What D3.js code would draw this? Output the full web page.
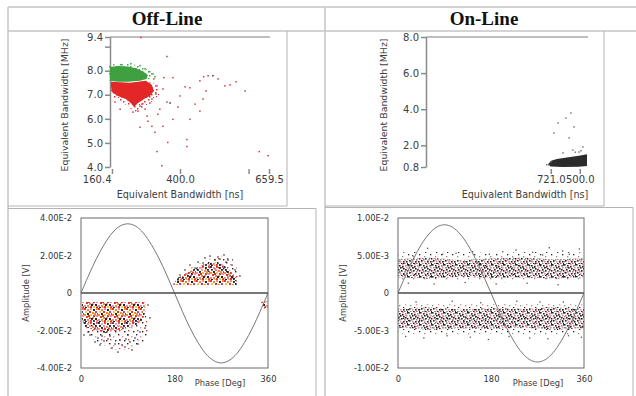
<!DOCTYPE html>
<html>
<head>
<meta charset="utf-8">
<script src="https://cdn.jsdelivr.net/npm/d3@7"></script>
<style>
    body { margin: 0; background: #fff; }
    svg { display: block; }
    text { font-family: "DejaVu Sans", Verdana, sans-serif; fill: #3c3c3c; }
</style>
</head>
<body>
<svg id="chart" width="636" height="396"></svg>
<script>
// ---- Off-Line, equivalent bandwidth map ----
const offYTicks = [4, 5, 6, 7, 8, 9, 9.4]
const offYLabels = ["4.0", "5.0", "6.0", "7.0", "8.0", "", "9.4"]
const offXTicks = [160.4, 400, 600, 659.5]
const offXLabels = ["160.4", "400.0", "", "659.5"]
const offGreenCore = [[153, 8.15], [181, 8.2], [216, 8.17], [245, 8.1], [269, 7.98], [287, 7.82], [282, 7.66], [259, 7.58], [216, 7.54], [181, 7.54], [153, 7.58]]
const offGreenHalo = [[150, 8.24], [190, 8.32], [230, 8.28], [262, 8.18], [290, 8.02], [305, 7.84], [296, 7.66], [260, 7.6], [150, 7.6]]
const offRedCore = [[157, 7.54], [223, 7.5], [280, 7.58], [301, 7.41], [308, 7.16], [294, 6.95], [273, 6.82], [252, 6.66], [238, 6.49], [227, 6.66], [209, 6.82], [181, 6.95], [160, 7.12], [157, 7.33]]
const offRedHalo = [[155, 7.52], [240, 7.48], [300, 7.52], [322, 7.32], [328, 7.02], [310, 6.8], [285, 6.58], [258, 6.34], [236, 6.28], [218, 6.52], [190, 6.72], [165, 6.85], [155, 7.1]]
const offGreenDots = [[293, 7.96], [305, 7.87], [277, 8.08], [312, 7.75], [196, 8.25], [227, 8.29], [259, 8.21]]
const offRedDots = [
    [262, 9.38], [354, 8.59], [308, 7.66], [343, 7.71], [375, 7.71], [319, 7.37], [340, 7.24], [400, 6.95],
    [415, 7.33], [429, 7.29], [458, 7.58], [469, 7.75], [482, 7.79], [511, 7.66], [531, 7.37],
    [563, 7.54], [467, 6.82], [429, 5.98], [420, 5.14], [420, 4.85], [357, 5.02], [319, 4.64], [336, 4.05],
    [301, 5.69], [284, 6.11], [259, 6.53], [329, 6.4], [354, 6.7], [375, 5.98], [631, 4.64], [657, 4.47],
    [284, 6.95], [234, 6.28], [259, 5.65], [312, 5.44], [340, 5.69], [301, 6.82], [171, 6.7],
    [189, 6.4], [241, 6.74], [266, 6.61], [294, 6.66], [277, 6.4], [315, 7.03], [252, 6.32], [287, 5.9],
    [322, 6.19], [393, 6.49], [444, 6.61], [476, 7.16], [546, 7.41], [590, 7.16], [458, 6.32]
]
const offDarkDots = [[496, 7.79], [365, 6.66]]

// ---- On-Line, equivalent bandwidth map ----
const onYTicks = [0.8, 2, 4, 6, 8]
const onYLabels = ["0.8", "2.0", "4.0", "6.0", "8.0"]
const onXTicks = [620, 764]
const onXLabels = ["721.0", "500.0"]
const onCore = [[606, 0.95], [622, 1.15], [650, 1.25], [700, 1.32], [760, 1.42], [800, 1.5], [800, 0.86], [760, 0.82], [680, 0.8], [620, 0.83]]
const onDots = [[720, 3.79], [696, 3.51], [656, 3.24], [735, 3.02], [636, 2.68], [711, 2.41], [730, 1.74], [780, 1.91], [760, 1.63], [681, 1.58], [621, 1.08], [611, 0.91], [742, 1.62], [770, 1.7], [600, 0.92]]

// ---- Off-Line, phase resolved ----
const offSine = [[0, 0], [15, 0.0096], [30, 0.0185], [45, 0.026], [60, 0.032], [75, 0.0357], [90, 0.0369], [105, 0.0357], [120, 0.032], [135, 0.026], [150, 0.0185], [165, 0.0096], [180, 0], [195, -0.0097], [210, -0.0187], [225, -0.0263], [240, -0.0323], [255, -0.036], [270, -0.0373], [285, -0.036], [300, -0.0323], [315, -0.0263], [330, -0.0187], [345, -0.0097], [360, 0]]
const offNegCore = [[1.9, -0.0048], [123, -0.0048], [125, -0.0091], [119, -0.0144], [104, -0.0176], [75, -0.0197], [46, -0.0213], [27, -0.0197], [7.7, -0.0181], [1.9, -0.0144]]
const offNegWarm = [[3, -0.0048], [120, -0.0048], [118, -0.011], [95, -0.015], [60, -0.016], [25, -0.0145], [3, -0.012]]
const offNegHalo = [[8, -0.015], [40, -0.018], [80, -0.017], [125, -0.012], [132, -0.02], [118, -0.027], [90, -0.03], [60, -0.03], [30, -0.026], [10, -0.022]]
const offPosCore = [[175.2, 0.0043], [300.3, 0.0043], [298.4, 0.008], [286.8, 0.0123], [271.4, 0.0155], [252.2, 0.0165], [229, 0.0144], [206, 0.0112], [186.7, 0.008]]
const offPosWarm = [[178, 0.0043], [295, 0.0043], [290, 0.009], [270, 0.012], [245, 0.012], [215, 0.0095], [190, 0.007]]
const offPosHalo = [[185, 0.008], [215, 0.014], [245, 0.018], [270, 0.02], [292, 0.018], [305, 0.01], [300, 0.006], [260, 0.012], [220, 0.01]]
const offEdgeCore = [[346.5, -0.0048], [360, -0.0043], [360, -0.0075], [352.3, -0.0085]]
const offNegDots = [
    [17.3, -0.0224], [32.7, -0.024], [44.3, -0.0256], [55.8, -0.0229], [65.5, -0.0272], [75, -0.0251], [84.7, -0.0288],
    [94.3, -0.0261], [104, -0.024], [90.5, -0.0224], [59.7, -0.0293], [36.6, -0.0277], [113.6, -0.0208], [123.2, -0.0187],
    [13.5, -0.0208], [71.2, -0.0315], [98.2, -0.0304], [52, -0.0245], [27, -0.0261], [109.7, -0.0272], [132.8, -0.0133],
    [129, -0.0064], [5.8, -0.0224], [78.9, -0.0277], [40.4, -0.0229], [86.6, -0.0245]
]
const offPosDots = [
    [190.6, 0.0096], [209.8, 0.0149], [225.2, 0.0165], [238.7, 0.0187], [248.3, 0.0197], [263.7, 0.0192], [275.3, 0.0203],
    [283, 0.0176], [290.7, 0.0149], [296.5, 0.0123], [200.2, 0.0123], [219.5, 0.0133], [258, 0.0176], [279, 0.0165],
    [306, 0.0091], [234.9, 0.016], [267.6, 0.0181], [186.7, 0.0069]
]

// ---- On-Line, phase resolved ----
const onSine = [[0, 0], [15, 0.00236], [30, 0.00456], [45, 0.00644], [60, 0.00788], [75, 0.00879], [90, 0.0091], [105, 0.00879], [120, 0.00788], [135, 0.00644], [150, 0.00456], [165, 0.00236], [180, 0], [195, -0.00238], [210, -0.0046], [225, -0.0065], [240, -0.00797], [255, -0.00889], [270, -0.0092], [285, -0.00889], [300, -0.00797], [315, -0.0065], [330, -0.0046], [345, -0.00238], [360, 0]]
const onBandUp = [[0, 0.0045], [60, 0.0047], [120, 0.0044], [180, 0.0046], [240, 0.0047], [300, 0.0045], [360, 0.0046], [360, 0.0021], [300, 0.0019], [240, 0.0021], [180, 0.002], [120, 0.0022], [60, 0.0019], [0, 0.0021]]
const onBandDown = [[0, -0.0021], [60, -0.0019], [120, -0.0022], [180, -0.002], [240, -0.0021], [300, -0.0019], [360, -0.0021], [360, -0.0047], [300, -0.0049], [240, -0.0046], [180, -0.0048], [120, -0.0047], [60, -0.0049], [0, -0.0046]]
const onHaloUp = [[0, 0.0054], [90, 0.0056], [180, 0.0053], [270, 0.0055], [360, 0.0054], [360, 0.0015], [180, 0.0014], [0, 0.0015]]
const onHaloDown = [[0, -0.0015], [180, -0.0014], [360, -0.0015], [360, -0.0055], [270, -0.0057], [180, -0.0054], [90, -0.0056], [0, -0.0054]]
const onDotsUp = [
    [57.4, 0.00596], [112.3, 0.00529], [144.5, 0.00551], [176.8, 0.00516], [228.4, 0.00573], [260.6, 0.00542],
    [292.9, 0.00604], [318.8, 0.0056], [351, 0.00587], [86.5, 0.00516], [202.6, 0.00551], [280, 0.00507],
    [28.4, 0.00498], [331.5, 0.00516], [20, 0.0013], [70, 0.0012], [130, 0.0014], [190, 0.0012], [250, 0.0013], [310, 0.0011]
]
const onDotsDown = [
    [15, -0.0058], [50, -0.006], [95, -0.0057], [140, -0.0059], [175, -0.0062], [215, -0.0058], [255, -0.006],
    [290, -0.0061], [330, -0.0057], [355, -0.0059], [35, -0.0012], [105, -0.0011], [160, -0.0013], [230, -0.0011], [275, -0.0012], [320, -0.0012]
]

const svg = d3.select("#chart")
const defs = svg.append("defs")

function texture(id, size, dots, r, colors) {
    const p = defs.append("pattern")
        .attr("id", id)
        .attr("patternUnits", "userSpaceOnUse")
        .attr("width", size)
        .attr("height", size)
    p.selectAll("rect")
        .data(dots)
        .join("rect")
        .attr("x", (d) => d[0])
        .attr("y", (d) => d[1])
        .attr("width", r)
        .attr("height", r)
        .attr("fill", (d, i) => colors[i % colors.length])
}

// speckle layouts for the dense point clouds
const speck14 = [[0, 0], [3, 1], [6, 0], [9, 1], [12, 0], [1, 3], [5, 3], [8, 4], [11, 3], [13, 5], [0, 6], [3, 5], [6, 6], [9, 7], [12, 7],
    [2, 8], [5, 9], [8, 9], [11, 10], [13, 12], [0, 11], [3, 11], [6, 12], [9, 12], [12, 12.5], [1, 13], [4, 13.5], [7, 10], [10, 5.5], [4, 7]]
const speck12 = [[0, 0], [3, 1], [6, 0], [9, 1], [11, 0], [1, 3], [4, 3], [7, 4], [10, 3], [0, 6], [2, 5], [5, 6], [8, 7], [11, 6],
    [1, 8], [4, 9], [7, 9], [10, 9], [2, 11], [5, 11], [8, 11], [11, 11], [6, 2], [9, 5], [3, 7]]
const O = "#ef8a30", Y = "#f6c24c", R = "#de3530", P = "#ec8c9c", K = "#2a2020", G = "#8c8c8c", M = "#c24860"
texture("warm", 14, speck14, 2, [R, O, P, K, O, Y, R, O, M, R, O, K, Y, R, P, R, O, P, K, O, P, O, R, Y, R, K, P, K, O, R])
texture("dark", 14, speck14, 1.9, [K, P, R, K, M, K, P, O, K, R, P, K, R, K, P, R, K, M, K, P, K, O, R, K, P, K, M, K, R, P])
texture("band", 12, speck12, 1.6, [K, K, P, G, K, G, K, K, P, P, K, K, G, K, K, P, K, K, G, K, M, K, K, K, G])
texture("sparse", 11, [[1, 1], [6, 3], [9, 7], [3, 8], [7, 10]], 1.3, [K, G, P, G, K])
texture("sparseDark", 9, [[1, 1], [5, 3], [7, 7], [2, 6]], 1.4, [K, P, K, R])
texture("redSpeck", 7, [[1, 1], [4, 3], [2, 5], [6, 6]], 1.5, ["#d83232"])
texture("greenSpeck", 7, [[1, 1], [4, 3], [2, 5], [6, 6]], 1.5, ["#45a545"])

// ---- table frame ----
const grid = svg.append("g").attr("stroke", "#c4c4c4").attr("stroke-width", 1.5)
const tableLines = [[8, 7, 636, 7], [8, 31, 636, 31], [8, 7, 8, 396], [325, 7, 325, 396]]
grid.selectAll("line").data(tableLines).join("line")
    .attr("x1", (d) => d[0]).attr("y1", (d) => d[1]).attr("x2", (d) => d[2]).attr("y2", (d) => d[3])
const frames = svg.append("g").attr("stroke", "#b4b4b4").attr("stroke-width", 1)
const frameLines = [[8, 206, 287, 206], [287, 31, 287, 206], [8, 208.5, 316, 208.5], [316, 208.5, 316, 396],
    [325, 206, 604, 206], [604, 31, 604, 206], [325, 207.5, 633, 207.5], [633, 207.5, 633, 396]]
frames.selectAll("line").data(frameLines).join("line")
    .attr("x1", (d) => d[0]).attr("y1", (d) => d[1]).attr("x2", (d) => d[2]).attr("y2", (d) => d[3])

svg.append("g").selectAll("text")
    .data([["Off-Line", 167], ["On-Line", 484]])
    .join("text")
    .attr("x", (d) => d[1])
    .attr("y", 25)
    .attr("text-anchor", "middle")
    .style("font-family", "'Liberation Serif', 'DejaVu Serif', serif")
    .style("font-weight", "bold")
    .style("font-size", "19px")
    .style("fill", "#111")
    .text((d) => d[0])

// ---- helpers ----
function polygon(g, pts, x, y, fill) {
    g.append("path")
        .datum(pts)
        .attr("fill", fill)
        .attr("d", d3.line().x((d) => x(d[0])).y((d) => y(d[1])).curve(d3.curveLinearClosed))
}

function dots(g, pts, x, y, fill, s) {
    g.append("g").selectAll("rect")
        .data(pts)
        .join("rect")
        .attr("x", (d) => x(d[0]) - s / 2)
        .attr("y", (d) => y(d[1]) - s / 2)
        .attr("width", s)
        .attr("height", s)
        .attr("fill", fill)
}

function bandwidthPanel(opt) {
    const { x, y, axisX, topRight, xTicks, xLabels, yTicks, yLabels, titleX, titleY } = opt
    const g = svg.append("g")

    g.append("line")
        .attr("x1", axisX).attr("x2", topRight)
        .attr("y1", y.range()[1]).attr("y2", y.range()[1])
        .attr("stroke", "#a8a8a8").attr("stroke-width", 1.5)

    const ya = g.append("g")
        .attr("transform", `translate(${axisX},0)`)
        .call(d3.axisLeft(y).tickValues(yTicks).tickSize(5).tickSizeOuter(0).tickPadding(2)
            .tickFormat((d, i) => yLabels[i]))
    ya.selectAll("path, line").attr("stroke", "#8a8a8a").attr("stroke-width", 1.5)
    ya.selectAll("text").style("font-size", "10px").style("fill", "#3c3c3c")

    const xa = g.append("g")
        .attr("transform", `translate(0,${y.range()[0] + 2})`)
        .call(d3.axisBottom(x).tickValues(xTicks).tickSize(5).tickPadding(2)
            .tickFormat((d, i) => xLabels[i]))
    xa.select(".domain").remove()
    xa.selectAll("line").attr("stroke", "#8a8a8a").attr("stroke-width", 1.5)
    xa.selectAll("text").style("font-size", "10px").style("fill", "#3c3c3c")

    g.append("text")
        .attr("x", titleX).attr("y", 198)
        .attr("text-anchor", "middle")
        .style("font-size", "9.6px")
        .text("Equivalent Bandwidth [ns]")
    g.append("text")
        .attr("transform", `translate(${titleY},105) rotate(-90)`)
        .attr("text-anchor", "middle")
        .style("font-size", "9.4px")
        .text("Equivalent Bandwidth [MHz]")
    return { g, xa }
}

function phasePanel(opt) {
    const { x, y, yTicks, yLabels, titleY, phaseX } = opt
    const g = svg.append("g")
    const [x0, x1] = x.range()
    const [y0, y1] = y.range()
    return {
        g,
        finish(sine) {
            g.append("path")
                .datum(sine)
                .attr("fill", "none")
                .attr("stroke", "#777")
                .attr("stroke-width", 1)
                .attr("d", d3.line().x((d) => x(d[0])).y((d) => y(d[1])).curve(d3.curveCatmullRom))
            g.append("line")
                .attr("x1", x0).attr("x2", x1).attr("y1", y(0)).attr("y2", y(0))
                .attr("stroke", "#4a4a4a").attr("stroke-width", 1.5)
            g.append("rect")
                .attr("x", x0).attr("y", y1).attr("width", x1 - x0).attr("height", y0 - y1)
                .attr("fill", "none").attr("stroke", "#6a6a6a").attr("stroke-width", 1)
            const ya = g.append("g")
                .attr("transform", `translate(${x0},0)`)
                .call(d3.axisLeft(y).tickValues(yTicks).tickSize(0).tickPadding(9)
                    .tickFormat((d, i) => yLabels[i]))
            ya.select(".domain").remove()
            ya.selectAll("text").style("font-size", "8.3px").style("fill", "#333")
            const xa = g.append("g")
                .attr("transform", `translate(0,${y0})`)
                .call(d3.axisBottom(x).tickValues([0, 180, 360]).tickSize(0).tickPadding(8))
            xa.select(".domain").remove()
            xa.selectAll("text").style("font-size", "8.3px").style("fill", "#333")
            g.append("text")
                .attr("x", phaseX).attr("y", 386)
                .attr("text-anchor", "middle")
                .style("font-size", "8.3px")
                .text("Phase [Deg]")
            g.append("text")
                .attr("transform", `translate(${titleY},293) rotate(-90)`)
                .attr("text-anchor", "middle")
                .style("font-size", "8.3px")
                .text("Amplitude [V]")
        }
    }
}

// ---- panel 1: Off-Line bandwidth ----
{
    const x = d3.scaleLinear().domain([160.4, 400, 659.5]).range([112, 180, 269])
    const y = d3.scaleLinear().domain([4, 9.4]).range([167, 37])
    const { g, xa } = bandwidthPanel({ x, y, axisX: 110, topRight: 270, xTicks: offXTicks, xLabels: offXLabels,
        yTicks: offYTicks, yLabels: offYLabels, titleX: 180, titleY: 68 })
    xa.selectAll(".tick").filter((d, i) => i === 0).select("text").attr("text-anchor", "end").attr("x", -1)
    polygon(g, offRedHalo, x, y, "url(#redSpeck)")
    polygon(g, offGreenHalo, x, y, "url(#greenSpeck)")
    polygon(g, offGreenCore, x, y, "#3fa03f")
    dots(g, offGreenDots, x, y, "#4aa84a", 1.6)
    polygon(g, offRedCore, x, y, "#e32626")
    dots(g, offRedDots, x, y, "#cf3a3a", 1.5)
    dots(g, offDarkDots, x, y, "#333", 1.5)
}

// ---- panel 2: On-Line bandwidth ----
{
    const x = d3.scaleLinear().domain([0, 800]).range([426, 587])
    const y = d3.scaleLinear().domain([0.8, 8]).range([167, 37])
    const { g } = bandwidthPanel({ x, y, axisX: 426, topRight: 588, xTicks: onXTicks, xLabels: onXLabels,
        yTicks: onYTicks, yLabels: onYLabels, titleX: 525, titleY: 387 })
    polygon(g, onCore, x, y, "#2b2b2b")
    dots(g, onDots, x, y, "#666", 1.4)
}

// ---- panel 3: Off-Line phase resolved ----
{
    const x = d3.scaleLinear().domain([0, 360]).range([81, 268])
    const y = d3.scaleLinear().domain([-0.04, 0.04]).range([368, 218])
    const p = phasePanel({ x, y, yTicks: [-0.04, -0.02, 0, 0.02, 0.04],
        yLabels: ["-4.00E-2", "-2.00E-2", "0", "2.00E-2", "4.00E-2"], titleY: 29, phaseX: 220 })
    polygon(p.g, offNegHalo, x, y, "url(#sparseDark)")
    polygon(p.g, offPosHalo, x, y, "url(#sparseDark)")
    polygon(p.g, offNegCore, x, y, "url(#dark)")
    polygon(p.g, offNegWarm, x, y, "url(#warm)")
    polygon(p.g, offPosCore, x, y, "url(#dark)")
    polygon(p.g, offPosWarm, x, y, "url(#warm)")
    polygon(p.g, offEdgeCore, x, y, "url(#warm)")
    dots(p.g, offNegDots, x, y, "#3a3030", 1.4)
    dots(p.g, offPosDots, x, y, "#3a3030", 1.4)
    p.finish(offSine)
}

// ---- panel 4: On-Line phase resolved ----
{
    const x = d3.scaleLinear().domain([0, 360]).range([398, 584])
    const y = d3.scaleLinear().domain([-0.01, 0.01]).range([368, 218])
    const p = phasePanel({ x, y, yTicks: [-0.01, -0.005, 0, 0.005, 0.01],
        yLabels: ["-1.00E-2", "-5.00E-3", "0", "5.00E-3", "1.00E-2"], titleY: 346, phaseX: 538 })
    polygon(p.g, onHaloUp, x, y, "url(#sparse)")
    polygon(p.g, onHaloDown, x, y, "url(#sparse)")
    polygon(p.g, onBandUp, x, y, "url(#band)")
    polygon(p.g, onBandDown, x, y, "url(#band)")
    dots(p.g, onDotsUp, x, y, "#555", 1.3)
    dots(p.g, onDotsDown, x, y, "#555", 1.3)
    p.finish(onSine)
}
</script>
</body>
</html>
